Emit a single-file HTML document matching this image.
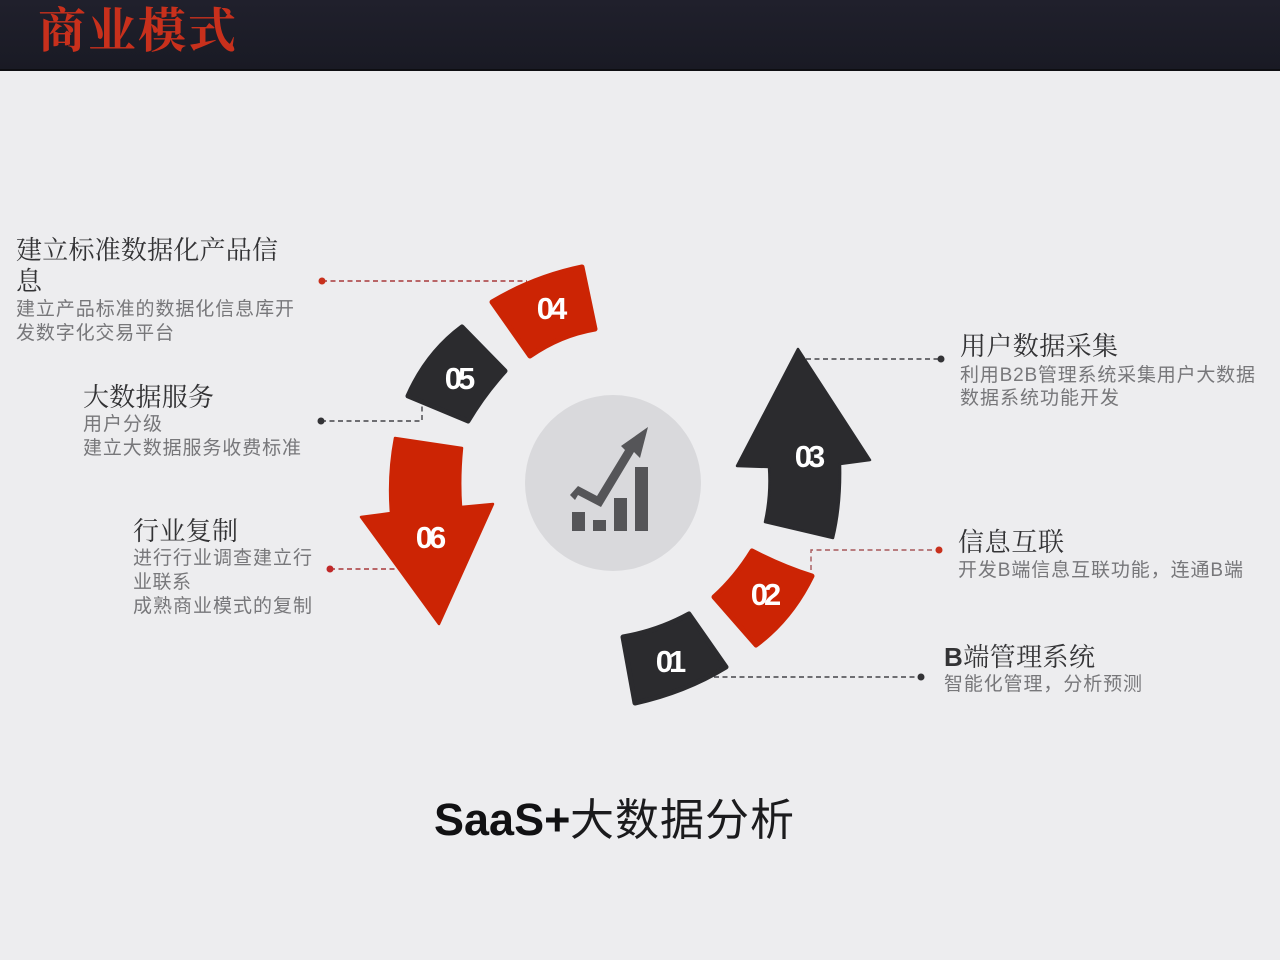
<!DOCTYPE html>
<html lang="zh">
<head>
<meta charset="utf-8">
<title>商业模式</title>
<style>
html,body{margin:0;padding:0;background:#ededef}
svg{display:block}
.h{font-size:26px;fill:#333335;font-family:"Liberation Sans","Noto Serif CJK SC",serif}
.b{font-size:19px;fill:#77777a;font-family:"Liberation Sans","Noto Sans CJK SC",sans-serif}
.n{font-size:31px;fill:#fff;font-weight:700;font-family:"Liberation Sans",sans-serif;text-anchor:middle;letter-spacing:-4px}
</style>
</head>
<body>
<svg width="1280" height="960" viewBox="0 0 1280 960" xmlns="http://www.w3.org/2000/svg">
<defs>
<linearGradient id="top" x1="0" y1="0" x2="0" y2="1"><stop offset="0" stop-color="#20202c"/><stop offset="1" stop-color="#191a24"/></linearGradient>
</defs>
<rect width="1280" height="960" fill="#ededef"/>
<rect width="1280" height="70" fill="url(#top)"/>
<rect y="69" width="1280" height="2" fill="#0e0e12"/>
<text x="38" y="47" textLength="198" lengthAdjust="spacing" style="font-family:'Noto Serif CJK SC',serif;font-size:48px;font-weight:700;fill:#c8301c">商业模式</text>

<!-- connectors -->
<g fill="none" stroke-width="1.4" stroke-dasharray="5 3.5">
<path d="M322 281H527" stroke="#a8383a"/>
<path d="M321 421H422V405" stroke="#444448"/>
<path d="M330 569H396" stroke="#a8383a"/>
<path d="M806 359H941" stroke="#444448"/>
<path d="M811 570V550H939" stroke="#a8585a"/>
<path d="M714 677H921" stroke="#444448"/>
</g>
<g>
<circle cx="322" cy="281" r="3.5" fill="#c8301c"/>
<circle cx="321" cy="421" r="3.5" fill="#333336"/>
<circle cx="330" cy="569" r="3.5" fill="#c02828"/>
<circle cx="941" cy="359" r="3.5" fill="#333336"/>
<circle cx="939" cy="550" r="3.5" fill="#c8301c"/>
<circle cx="921" cy="677" r="3.5" fill="#333336"/>
</g>

<!-- segments -->
<g stroke-linejoin="round" stroke-width="5">
<path fill="#2b2b2e" stroke="#2b2b2e" d="M623 637Q658 631 689 614L726 667Q685 692 635 703Z"/>
<path fill="#cc2404" stroke="#cc2404" d="M752 551Q783 567 812 576Q791 619 756 645L714 597Q736 577 752 551Z"/>
<path fill="#cc2404" stroke="#cc2404" d="M492 302Q534 277 582 267L595 329Q560 335 530 356Z"/>
<path fill="#2b2b2e" stroke="#2b2b2e" d="M462 327L505 371Q484 394 468 421L408 396Q427 353 462 327Z"/>
</g>
<g stroke-linejoin="round" stroke-width="2.5">
<path fill="#2b2b2e" stroke="#2b2b2e" d="M798 349L870 460L840 464Q841 505 833 538L765 522Q771 495 769 467L737 466Z"/>
<path fill="#cc2404" stroke="#cc2404" d="M395 438L462 448Q459 478 461 507L493 504L439 624L361 517L391 513Q388 475 395 438Z"/>
</g>
<text class="n" x="550" y="319">04</text>
<text class="n" x="458" y="389">05</text>
<text class="n" x="429" y="548">06</text>
<text class="n" x="808" y="467">03</text>
<text class="n" x="764" y="605">02</text>
<text class="n" x="669" y="672">01</text>

<!-- hub -->
<circle cx="613" cy="483" r="88" fill="#d9d9dc"/>
<g fill="#555558">
<rect x="572" y="512" width="13" height="19"/>
<rect x="593" y="520" width="13" height="11"/>
<rect x="614" y="498" width="13" height="33"/>
<rect x="635" y="467" width="13" height="64"/>
<path d="M570 495L578 486L597 496L625 450L621 446L648 427L640 458L634 452L601 507L578 495L575 500Z"/>
</g>

<!-- left labels -->
<text class="h" x="16" y="259" textLength="262" lengthAdjust="spacing">建立标准数据化产品信</text>
<text class="h" x="16" y="290">息</text>
<text class="b" x="16" y="315" textLength="278" lengthAdjust="spacing">建立产品标准的数据化信息库开</text>
<text class="b" x="16" y="339" textLength="158" lengthAdjust="spacing">发数字化交易平台</text>

<text class="h" x="83" y="406" textLength="131" lengthAdjust="spacing">大数据服务</text>
<text class="b" x="83" y="430" textLength="79" lengthAdjust="spacing">用户分级</text>
<text class="b" x="83" y="454" textLength="218" lengthAdjust="spacing">建立大数据服务收费标准</text>

<text class="h" x="133" y="540" textLength="105" lengthAdjust="spacing">行业复制</text>
<text class="b" x="133" y="564" textLength="179" lengthAdjust="spacing">进行行业调查建立行</text>
<text class="b" x="133" y="588" textLength="58" lengthAdjust="spacing">业联系</text>
<text class="b" x="133" y="612" textLength="179" lengthAdjust="spacing">成熟商业模式的复制</text>

<!-- right labels -->
<text class="h" x="960" y="355" textLength="158" lengthAdjust="spacing">用户数据采集</text>
<text class="b" x="960" y="381" textLength="295" lengthAdjust="spacing">利用B2B管理系统采集用户大数据</text>
<text class="b" x="960" y="404" textLength="159" lengthAdjust="spacing">数据系统功能开发</text>

<text class="h" x="958" y="551" textLength="106" lengthAdjust="spacing">信息互联</text>
<text class="b" x="958" y="576" textLength="285" lengthAdjust="spacing">开发B端信息互联功能，连通B端</text>

<text class="h" x="944" y="666" textLength="151" lengthAdjust="spacing"><tspan font-weight="700">B</tspan>端管理系统</text>
<text class="b" x="944" y="690" textLength="198" lengthAdjust="spacing">智能化管理，分析预测</text>

<!-- caption -->
<text x="434" y="835" style="font-family:'Liberation Sans',sans-serif;font-size:45px;font-weight:700;fill:#111113">SaaS+</text>
<text x="570" y="835" textLength="224" lengthAdjust="spacing" style="font-family:'WenQuanYi Zen Hei','Noto Sans CJK SC',sans-serif;font-size:44px;fill:#1b1b1d">大数据分析</text>
</svg>
</body>
</html>
